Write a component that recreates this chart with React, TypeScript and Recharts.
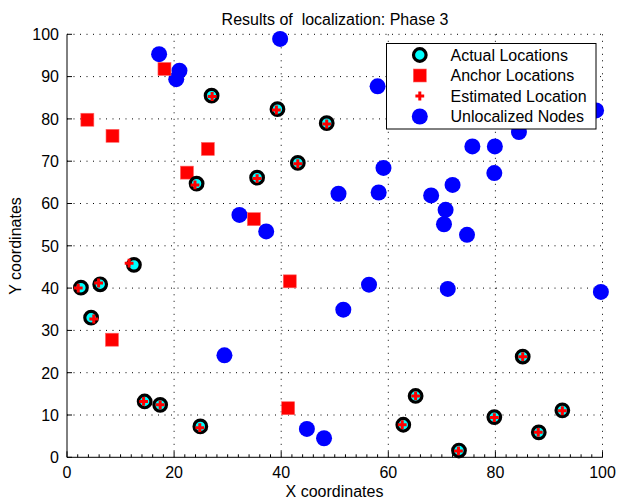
import React from 'react';
import { ScatterChart, Scatter, XAxis, YAxis, CartesianGrid, Legend, Customized } from 'recharts';

const actualLocations = [
  { x: 27.0, y: 85.5 }, { x: 39.3, y: 82.3 }, { x: 48.5, y: 79.0 }, { x: 43.1, y: 69.6 },
  { x: 35.5, y: 66.1 }, { x: 24.2, y: 64.7 }, { x: 12.5, y: 45.5 }, { x: 2.6, y: 40.1 },
  { x: 6.2, y: 40.9 }, { x: 4.5, y: 33.0 }, { x: 14.5, y: 13.2 }, { x: 17.4, y: 12.4 },
  { x: 24.9, y: 7.3 }, { x: 62.8, y: 7.7 }, { x: 65.1, y: 14.5 }, { x: 73.2, y: 1.6 },
  { x: 79.8, y: 9.5 }, { x: 85.1, y: 23.8 }, { x: 88.1, y: 5.9 }, { x: 92.5, y: 11.1 },
];

const estimatedLocations = [
  { x: 27.1, y: 85.3 }, { x: 39.1, y: 82.1 }, { x: 48.5, y: 78.8 }, { x: 43.1, y: 69.4 },
  { x: 35.5, y: 65.9 }, { x: 23.9, y: 64.4 }, { x: 11.6, y: 45.9 }, { x: 2.1, y: 40.0 },
  { x: 5.9, y: 41.2 }, { x: 5.0, y: 32.7 }, { x: 14.3, y: 13.2 }, { x: 17.4, y: 12.4 },
  { x: 24.8, y: 7.0 }, { x: 62.6, y: 7.7 }, { x: 65.1, y: 14.5 }, { x: 73.1, y: 1.5 },
  { x: 79.8, y: 9.4 }, { x: 85.1, y: 23.8 }, { x: 88.0, y: 5.9 }, { x: 92.5, y: 11.0 },
];

const anchorLocations = [
  { x: 3.8, y: 79.8 }, { x: 8.5, y: 76.0 }, { x: 18.2, y: 91.8 }, { x: 26.3, y: 72.9 },
  { x: 22.4, y: 67.3 }, { x: 34.9, y: 56.3 }, { x: 8.4, y: 27.8 }, { x: 41.6, y: 41.6 },
  { x: 41.3, y: 11.6 },
];

const unlocalizedNodes = [
  { x: 17.2, y: 95.3 }, { x: 21.0, y: 91.4 }, { x: 20.4, y: 89.4 }, { x: 39.8, y: 98.9 },
  { x: 32.2, y: 57.3 }, { x: 37.2, y: 53.4 }, { x: 50.7, y: 62.3 }, { x: 58.0, y: 87.7 },
  { x: 98.8, y: 82.0 }, { x: 84.4, y: 76.9 }, { x: 75.7, y: 73.5 }, { x: 79.9, y: 73.5 },
  { x: 59.1, y: 68.4 }, { x: 79.8, y: 67.2 }, { x: 58.2, y: 62.6 }, { x: 68.0, y: 61.9 },
  { x: 72.0, y: 64.4 }, { x: 70.7, y: 58.5 }, { x: 70.4, y: 55.1 }, { x: 74.7, y: 52.6 },
  { x: 56.4, y: 40.8 }, { x: 51.6, y: 34.9 }, { x: 71.1, y: 39.8 }, { x: 99.7, y: 39.1 },
  { x: 29.4, y: 24.1 }, { x: 44.8, y: 6.7 }, { x: 48.0, y: 4.5 },
];

const xTicks = [
  0, 2, 4, 6, 8, 10, 12, 14, 16, 18, 20, 22, 24, 26, 28, 30, 32, 34, 36, 38, 40,
  42, 44, 46, 48, 50, 52, 54, 56, 58, 60, 62, 64, 66, 68, 70, 72, 74, 76, 78, 80,
  82, 84, 86, 88, 90, 92, 94, 96, 98, 100,
];
const xMajorTicks = [0, 20, 40, 60, 80, 100];
const yTicks = [0, 10, 20, 30, 40, 50, 60, 70, 80, 90, 100];
const xGridValues = [20, 40, 60, 80, 100];
const yGridValues = [10, 20, 30, 40, 50, 60, 70, 80, 90, 100];

const legendLabels = ['Actual Locations', 'Anchor Locations', 'Estimated Location', 'Unlocalized Nodes'];
const titleText = 'Results of  localization: Phase 3';
const xLabelText = 'X coordinates';
const yLabelText = 'Y coordinates';

const FONT = '"Liberation Sans", Arial, Helvetica, sans-serif';
const RED = '#ff0000';
const BLUE = '#0000ff';
const CYAN = '#00ffff';

const Ring = ({ cx, cy }: any) => (
  <circle cx={cx} cy={cy} r={6.3} fill={CYAN} stroke="#000" strokeWidth={3.2} />
);
const Square = ({ cx, cy }: any) => (
  <rect x={cx - 6.5} y={cy - 6.5} width={13} height={13} fill={RED} stroke="#ff6666" strokeWidth={0.6} />
);
const Plus = ({ cx, cy }: any) => {
  const h = 4.4;
  const a = 1.5;
  return (
    <path
      d={`M${cx - h},${cy - a}H${cx - a}V${cy - h}H${cx + a}V${cy - a}H${cx + h}V${cy + a}H${cx + a}V${cy + h}H${cx - a}V${cy + a}H${cx - h}Z`}
      fill={RED}
    />
  );
};
const Dot = ({ cx, cy }: any) => <circle cx={cx} cy={cy} r={8} fill={BLUE} />;

const XTick = ({ x, y, payload }: any) => {
  const v = payload.value;
  const major = xMajorTicks.indexOf(v) >= 0;
  return (
    <g>
      <line x1={x} x2={x} y1={y} y2={y - (major ? 6 : 3)} stroke="#000" strokeWidth={1} />
      {major && (
        <text x={x} y={y + 20.7} textAnchor="middle" fontSize={16} fontFamily={FONT} fill="#000">
          {v}
        </text>
      )}
    </g>
  );
};

const YTick = ({ x, y, payload }: any) => (
  <g>
    <line x1={x} x2={x + 5} y1={y} y2={y} stroke="#000" strokeWidth={1} />
    <text x={x - 8} y={y + 5.8} textAnchor="end" fontSize={16} fontFamily={FONT} fill="#000">
      {payload.value}
    </text>
  </g>
);

const LegendBox = () => {
  const rows = [12, 32.5, 53, 73.5];
  const mx = 33.8;
  return (
    <svg width={211} height={87} style={{ display: 'block' }}>
      <rect x={0.5} y={0.5} width={209.5} height={85.5} fill="#fff" stroke="#000" strokeWidth={1} />
      <Ring cx={mx} cy={rows[0]} />
      <Square cx={mx} cy={rows[1]} />
      <Plus cx={mx} cy={rows[2]} />
      <Dot cx={mx} cy={rows[3]} />
      {legendLabels.map((t, i) => (
        <text key={t} x={64.5} y={rows[i] + 5.8} fontSize={16} fontFamily={FONT} fill="#000">
          {t}
        </text>
      ))}
    </svg>
  );
};

const Texts = () => (
  <g fontFamily={FONT} fill="#000">
    <text x={335} y={25} textAnchor="middle" fontSize={16} style={{ whiteSpace: 'pre' }} xmlSpace="preserve">
      {titleText}
    </text>
    <text x={334.5} y={497} textAnchor="middle" fontSize={16}>{xLabelText}</text>
    <text x={21} y={246} textAnchor="middle" fontSize={16} transform="rotate(-90 21 246)">{yLabelText}</text>
  </g>
);

export default function App() {
  return (
    <div style={{ position: 'absolute', left: 0, top: 0, width: 618, height: 501, background: '#fff' }}>
      <ScatterChart
        width={618}
        height={501}
        margin={{ top: 34.3, right: 15.5, bottom: 13.7, left: 17 }}
      >
        <CartesianGrid
          verticalValues={xGridValues}
          horizontalValues={yGridValues}
          stroke="#000"
          strokeWidth={1}
          strokeDasharray="1 5.5"
        />
        <XAxis
          dataKey="x"
          type="number"
          domain={[0, 100]}
          ticks={xTicks}
          interval={0}
          height={30}
          tickSize={0}
          tickMargin={0}
          tick={<XTick />}
          axisLine={{ stroke: '#000', strokeWidth: 1 }}
          tickLine={false}
          allowDecimals
        />
        <YAxis
          dataKey="y"
          type="number"
          domain={[0, 100]}
          ticks={yTicks}
          interval={0}
          width={50}
          tickSize={0}
          tickMargin={0}
          tick={<YTick />}
          axisLine={{ stroke: '#000', strokeWidth: 1 }}
          tickLine={false}
        />
        <Scatter name={legendLabels[3]} data={unlocalizedNodes} shape={<Dot />} isAnimationActive={false} />
        <Scatter name={legendLabels[1]} data={anchorLocations} shape={<Square />} isAnimationActive={false} />
        <Scatter name={legendLabels[0]} data={actualLocations} shape={<Ring />} isAnimationActive={false} />
        <Scatter name={legendLabels[2]} data={estimatedLocations} shape={<Plus />} isAnimationActive={false} />
        <Legend
          layout="vertical"
          align="center"
          verticalAlign="middle"
          width={211}
          height={87}
          wrapperStyle={{ left: 385.5, top: 42.5, width: 211, height: 87 }}
          content={<LegendBox />}
        />
        <Customized component={<Texts />} />
      </ScatterChart>
    </div>
  );
}
